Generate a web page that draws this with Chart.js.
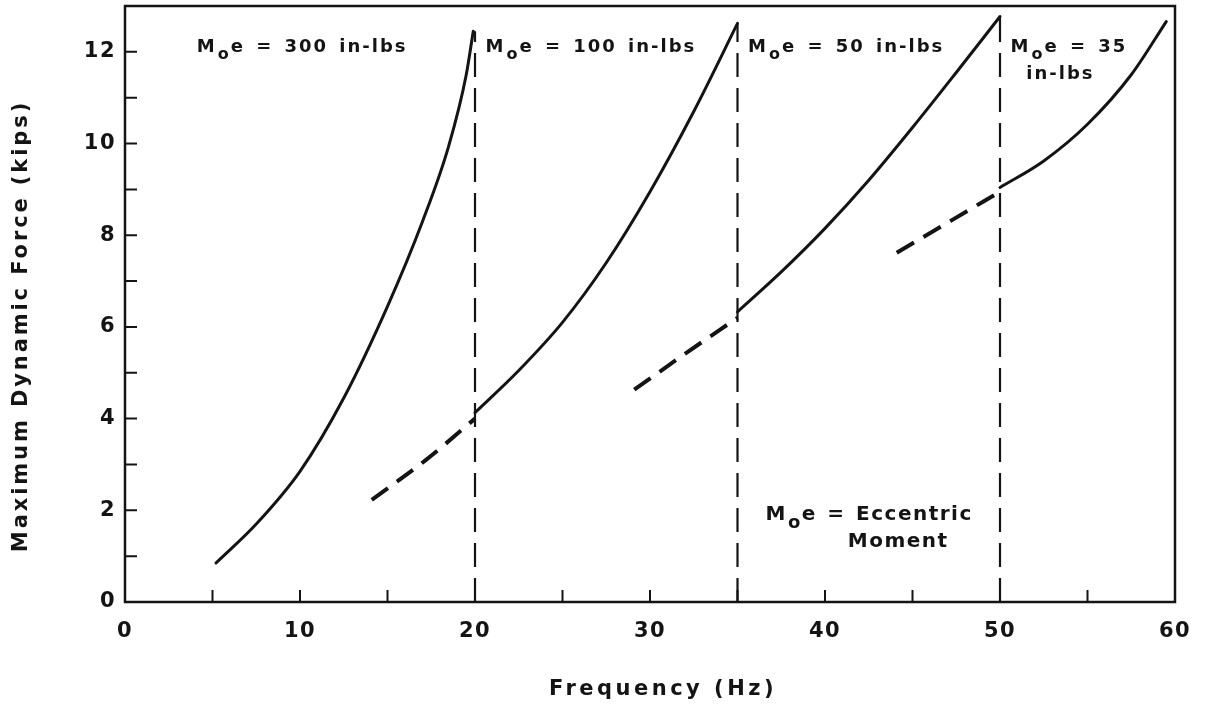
<!DOCTYPE html>
<html>
<head>
<meta charset="utf-8">
<script src="https://cdn.jsdelivr.net/npm/chart.js@4.4.1/dist/chart.umd.min.js"></script>
<style>
  html, body { margin: 0; padding: 0; background: #fff; }
  #wrap { width: 1217px; height: 711px; }
</style>
</head>
<body>
<div id="wrap"><canvas id="forceChart" width="1217" height="711"></canvas></div>
<script>
// Max dynamic force (kips) vs frequency (Hz)
const freq300 = [5.2, 7.5, 10, 12.5, 15, 17, 18.5, 19.5, 19.9];
const force300 = [0.85, 1.7, 2.85, 4.45, 6.45, 8.3, 9.95, 11.5, 12.45];

const freq100Dash = [14.1, 17.2, 20];
const force100Dash = [2.23, 3.1, 4.0];
const freq100 = [20, 22.5, 25, 27.5, 30, 32.5, 35];
const force100 = [4.13, 5.05, 6.1, 7.4, 8.95, 10.7, 12.62];

const freq50Dash = [29.1, 32.1, 35];
const force50Dash = [4.63, 5.44, 6.2];
const freq50 = [35, 37.5, 40, 42.5, 45, 47.5, 50];
const force50 = [6.33, 7.2, 8.15, 9.2, 10.35, 11.55, 12.77];

const freq35Dash = [44.1, 47.3, 50];
const force35Dash = [7.62, 8.34, 8.95];
const freq35 = [50, 52.5, 55, 57.5, 59.5];
const force35 = [9.04, 9.62, 10.42, 11.5, 12.66];

// frequencies where the eccentric moment is switched, and top of each divider
const switchFreqs = [20, 35, 50];
const switchTops = [12.45, 12.62, 12.77];

// labelled ticks
const xLabels = [0, 10, 20, 30, 40, 50, 60];
const yLabels = [0, 2, 4, 6, 8, 10, 12];

// M_o e notes: anchor = left end of text, baseline, in data units
const notes = [
  { x: 4.1, y: 12.0, text: 'e = 300 in-lbs', size: 18, sub: true },
  { x: 20.6, y: 12.0, text: 'e = 100 in-lbs', size: 18, sub: true },
  { x: 35.6, y: 12.0, text: 'e = 50 in-lbs', size: 18, sub: true },
  { x: 50.6, y: 12.0, text: 'e = 35', size: 18, sub: true },
  { x: 51.5, y: 11.4, text: 'in-lbs', size: 18, sub: false },
  { x: 36.6, y: 1.79, text: 'e = Eccentric', size: 20, sub: true },
  { x: 41.3, y: 1.2, text: 'Moment', size: 20, sub: false }
];

const INK = '#141414';
const FONT = '"DejaVu Sans", sans-serif';

function pts(xs, ys) {
  return xs.map((v, i) => ({ x: v, y: ys[i] }));
}

function solid(xs, ys) {
  return { data: pts(xs, ys), borderColor: INK, borderWidth: 3, showLine: true,
           pointRadius: 0, cubicInterpolationMode: 'monotone', borderCapStyle: 'round' };
}
function dashed(xs, ys) {
  return { data: pts(xs, ys), borderColor: INK, borderWidth: 4, borderDash: [20, 11],
           showLine: true, pointRadius: 0, cubicInterpolationMode: 'monotone' };
}

const datasets = [
  solid(freq300, force300),
  dashed(freq100Dash, force100Dash), solid(freq100, force100),
  dashed(freq50Dash, force50Dash), solid(freq50, force50),
  dashed(freq35Dash, force35Dash), solid(freq35, force35)
];
switchFreqs.forEach((f, i) => {
  datasets.push({ data: [{ x: f, y: 0 }, { x: f, y: switchTops[i] }], borderColor: INK,
                  borderWidth: 2.2, borderDash: [24, 11], showLine: true, pointRadius: 0 });
});

const frameAndNotes = {
  id: 'frameAndNotes',
  beforeDraw(chart) {
    chart.ctx.letterSpacing = '1.5px';
  },
  afterDraw(chart) {
    const { ctx, chartArea: a, scales: { x, y } } = chart;
    ctx.save();
    ctx.strokeStyle = INK;
    ctx.fillStyle = INK;
    ctx.lineWidth = 2.5;
    ctx.strokeRect(a.left, a.top, a.right - a.left, a.bottom - a.top);

    // ticks pointing into the plot
    ctx.lineWidth = 2;
    ctx.beginPath();
    x.ticks.forEach(t => {
      if (t.value <= x.min || t.value >= x.max) return;
      const px = x.getPixelForValue(t.value);
      ctx.moveTo(px, a.bottom);
      ctx.lineTo(px, a.bottom - 12);
    });
    y.ticks.forEach(t => {
      if (t.value <= y.min || t.value >= y.max) return;
      const py = y.getPixelForValue(t.value);
      ctx.moveTo(a.left, py);
      ctx.lineTo(a.left + 12, py);
    });
    ctx.stroke();

    // axis titles
    ctx.font = 'bold 21px ' + FONT;
    ctx.letterSpacing = '3.5px';
    ctx.textAlign = 'center';
    ctx.textBaseline = 'middle';
    ctx.fillText('Frequency (Hz)', (a.left + a.right) / 2 + 13, chart.height - 21);
    ctx.save();
    ctx.translate(22, (a.top + a.bottom) / 2 + 22);
    ctx.rotate(-Math.PI / 2);
    ctx.letterSpacing = '2.9px';
    ctx.fillText('Maximum Dynamic Force (kips)', 0, 0);
    ctx.restore();

    // notes
    ctx.textAlign = 'left';
    ctx.textBaseline = 'alphabetic';
    notes.forEach(n => {
      let px = x.getPixelForValue(n.x);
      const py = y.getPixelForValue(n.y);
      ctx.font = 'bold ' + n.size + 'px ' + FONT;
      ctx.letterSpacing = n.size > 18 ? '1.5px' : '2px';
      ctx.wordSpacing = n.size > 18 ? '2px' : '3px';
      if (n.sub) {
        ctx.fillText('M', px, py);
        px += ctx.measureText('M').width + 1;
        ctx.font = 'bold ' + (n.size - 2) + 'px ' + FONT;
        ctx.fillText('o', px, py + n.size * 0.42);
        px += ctx.measureText('o').width;
        ctx.font = 'bold ' + n.size + 'px ' + FONT;
      }
      ctx.fillText(n.text, px, py);
    });
    ctx.restore();
  }
};

new Chart(document.getElementById('forceChart'), {
  type: 'scatter',
  data: { datasets: datasets },
  options: {
    responsive: false,
    animation: false,
    devicePixelRatio: 1,
    layout: { padding: { left: 0, right: 42, top: 6, bottom: 0 } },
    plugins: { legend: { display: false }, tooltip: { enabled: false } },
    scales: {
      x: {
        type: 'linear', min: 0, max: 60,
        grid: { display: false, drawTicks: false },
        border: { display: false },
        ticks: {
          stepSize: 5, autoSkip: false, maxRotation: 0, padding: 17, color: INK,
          font: { family: FONT, size: 21, weight: 'bold' },
          callback: v => xLabels.includes(v) ? String(v) : ''
        },
        afterFit(s) { s.height = 109; s.paddingLeft = 0; s.paddingRight = 0; }
      },
      y: {
        type: 'linear', min: 0, max: 13,
        grid: { display: false, drawTicks: false },
        border: { display: false },
        ticks: {
          stepSize: 1, autoSkip: false, padding: 9, color: INK,
          font: { family: FONT, size: 21, weight: 'bold' },
          callback: v => yLabels.includes(v) ? String(v) : ''
        },
        afterFit(s) { s.width = 125; s.paddingTop = 0; s.paddingBottom = 0; }
      }
    }
  },
  plugins: [frameAndNotes]
});
</script>
</body>
</html>
